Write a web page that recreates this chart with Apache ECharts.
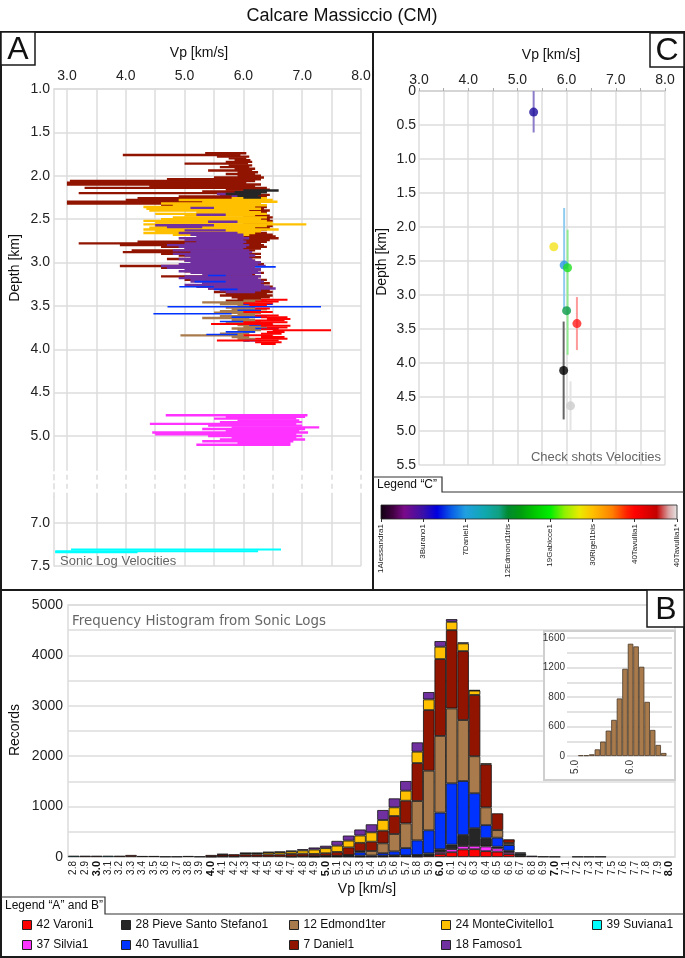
<!DOCTYPE html>
<html><head><meta charset="utf-8">
<script src="https://cdn.jsdelivr.net/npm/echarts@6/dist/echarts.min.js"></script>
<style>html,body{margin:0;padding:0;background:#fff}#c{width:685px;height:958px}</style>
</head><body><div id="c"></div>
<script>
// ---------------- DATA ----------------
// Panel A: sonic logs, rows [depth km, Vp low, Vp high]
const daniel1 = [
[1.74,5.35,6.05],[1.76,3.95,5.95],[1.78,5.55,6.10],[1.80,5.75,6.05],[1.82,5.85,6.12],[1.84,5.70,6.15],
[1.86,5.00,6.08],[1.88,5.75,6.15],[1.90,5.60,6.10],[1.92,5.85,6.20],[1.94,5.40,6.15],[1.96,5.90,6.25],
[1.98,5.70,6.20],[2.00,5.90,6.30],[2.02,5.50,6.35],[2.04,4.70,6.30],[2.06,3.05,6.20],[2.08,3.00,6.05],
[2.10,3.00,6.30],[2.12,4.40,6.20],[2.14,3.30,6.40],[2.16,5.70,6.45],[2.18,5.30,6.40],[2.20,3.20,6.30],
[2.22,5.60,6.45],[2.24,4.90,6.40],[2.26,4.20,6.30],[2.28,4.00,6.20],[2.30,3.00,5.50],[2.32,3.00,6.00],
[2.34,4.60,6.30],[2.36,5.60,6.40],[2.38,5.90,6.35],[2.40,5.80,6.45],[2.42,5.95,6.40],[2.44,5.90,6.40],
[2.46,6.00,6.45],[2.48,6.00,6.50],[2.50,6.10,6.45],[2.52,6.10,6.50],[2.54,6.00,6.45],[2.56,6.00,6.40],
[2.58,6.10,6.50],[2.60,6.00,6.45],[2.62,5.90,6.40],[2.64,5.90,6.30],[2.66,5.80,6.40],[2.68,5.80,6.50],
[2.70,5.70,6.55],[2.72,5.50,6.60],[2.74,5.30,6.45],[2.76,4.20,6.40],[2.78,3.20,6.30],[2.80,3.90,6.35],
[2.82,4.60,6.40],[2.84,5.00,6.30],[2.86,4.10,6.20],[2.88,3.95,6.10],[2.90,4.60,6.30],[2.92,4.90,6.20],
[2.94,5.20,6.30],[2.96,4.70,6.15],[2.98,5.00,6.20],[3.00,5.50,6.30],[3.02,5.20,6.35],[3.04,3.90,6.20],
[3.06,4.60,6.10],[3.08,5.50,6.30],[3.10,5.00,6.20],[3.12,5.30,6.35],[3.14,5.60,6.20],[3.16,4.60,6.30],
[3.18,5.40,6.15],[3.20,5.00,6.40],[3.22,5.60,6.30],[3.24,5.30,6.45],[3.26,5.80,6.30],[3.28,5.50,6.50],
[3.30,5.40,6.40],[3.32,5.60,6.45],[3.34,5.50,6.50],[3.36,5.70,6.40],[3.38,5.60,6.50],[3.40,5.80,6.45],
[3.42,5.90,6.30],[3.44,5.70,6.20]
];
const monteCivitello1 = [
[2.26,5.80,6.40],[2.28,4.90,6.50],[2.30,5.30,6.58],[2.32,4.60,6.30],[2.34,4.80,6.40],[2.36,4.30,6.20],
[2.38,4.35,6.30],[2.40,4.40,6.10],[2.42,5.20,6.30],[2.44,4.50,6.40],[2.46,5.00,6.20],[2.48,4.80,6.40],
[2.50,4.60,6.30],[2.52,4.30,6.40],[2.54,4.50,6.50],[2.56,4.30,7.07],[2.58,4.50,6.40],[2.60,4.40,6.20],
[2.62,4.30,6.60],[2.64,4.50,6.30],[2.66,4.30,6.20],[2.68,4.80,6.10],[2.70,5.40,6.00],[2.72,5.60,5.90]
];
const famoso1 = [
[2.21,5.55,6.00],[2.23,5.80,6.10],[2.37,5.10,5.50],[2.45,5.20,5.70],[2.53,5.40,5.90],[2.57,4.50,5.50],
[2.59,4.70,5.30],[2.63,5.00,5.70],[2.66,4.90,5.90],[2.68,5.10,6.00],[2.70,5.20,6.00],[2.72,4.90,6.10],
[2.74,5.00,6.00],[2.76,5.20,6.05],[2.78,5.00,6.00],[2.80,4.70,6.10],[2.82,4.90,6.05],[2.84,5.00,6.00],
[2.86,4.80,6.10],[2.88,5.10,6.15],[2.90,4.80,6.10],[2.92,5.00,6.20],[2.94,5.10,6.10],[2.96,4.90,6.15],
[2.98,5.00,6.20],[3.00,5.10,6.30],[3.02,4.90,6.25],[3.04,4.60,6.38],[3.06,4.70,6.20],[3.08,5.00,6.30],
[3.10,4.90,6.25],[3.12,5.10,6.30],[3.14,5.30,6.15],[3.16,5.00,6.30],[3.18,4.90,6.25],[3.20,5.10,6.30],
[3.22,5.10,6.35],[3.24,5.30,6.30],[3.26,5.00,6.35],[3.28,5.20,6.45],[3.30,5.40,6.55],[3.32,5.60,6.30],
[3.34,5.70,6.20]
];
const pieveSantoStefano1 = [
[2.17,6.00,6.60],[2.19,5.85,6.40],[2.21,5.70,6.30],[2.23,5.90,6.25],[2.25,6.00,6.30]
];
const edmond1ter = [
[3.44,6.00,6.40],[3.46,5.30,6.20],[3.48,5.60,6.10],[3.50,5.90,6.30],[3.52,5.70,6.20],[3.54,5.80,6.40],
[3.56,5.60,6.10],[3.58,5.50,6.30],[3.60,5.90,6.20],[3.62,5.60,6.30],[3.64,5.30,6.10],[3.66,5.80,6.20],
[3.68,5.90,6.30],[3.70,5.70,6.10],[3.72,5.90,6.30],[3.74,6.00,6.40],[3.76,5.80,6.20],[3.78,5.90,6.30],
[3.80,6.00,6.20],[3.82,5.60,6.10],[3.84,4.93,6.00],[3.86,5.80,6.10],[3.88,5.90,6.20],[3.90,6.00,6.10]
];
const tavullia1 = [
[3.05,6.20,6.55],[3.15,5.40,5.70],[3.22,5.17,5.70],[3.28,4.91,5.50],[3.31,5.50,5.90],[3.48,6.00,6.50],
[3.51,4.71,7.32],[3.55,5.90,6.30],[3.59,4.47,5.80],[3.63,5.80,6.40],[3.68,5.60,6.00],[3.72,6.10,6.50],
[3.76,6.20,6.60],[3.80,5.70,6.20],[3.83,5.37,5.90],[3.86,6.30,6.60],[3.90,6.00,6.30]
];
const varoni1 = [
[3.43,6.30,6.75],[3.45,6.20,6.60],[3.47,6.00,6.50],[3.49,6.10,6.40],[3.53,6.20,6.45],[3.57,6.00,6.50],
[3.61,6.20,6.60],[3.63,6.30,6.75],[3.65,6.40,6.80],[3.67,6.20,6.70],[3.69,6.00,6.75],[3.71,5.45,6.50],
[3.73,6.30,6.80],[3.75,6.40,6.75],[3.77,6.30,6.60],[3.78,6.50,7.49],[3.80,6.40,6.70],[3.82,6.30,6.65],
[3.84,6.00,6.50],[3.86,6.30,6.70],[3.88,6.20,6.75],[3.90,5.55,6.60],[3.92,6.20,6.65],[3.94,6.30,6.55]
];
const silvia1 = [
[4.76,4.68,7.09],[4.78,5.70,7.05],[4.80,5.50,6.90],[4.82,5.90,6.95],[4.84,5.60,7.00],[4.86,4.41,6.90],
[4.88,5.40,7.00],[4.90,5.80,7.29],[4.92,5.30,7.05],[4.94,5.70,6.95],[4.96,4.45,7.10],[4.98,4.50,6.90],
[5.00,5.40,7.00],[5.02,5.80,6.90],[5.04,5.60,7.05],[5.06,5.30,6.85],[5.08,5.90,6.80],[5.10,5.20,6.80]
];
const suviana1 = [[7.31,3.07,6.64],[7.33,2.80,6.25],[7.34,2.80,4.20]];

const vpTicksA = [3.0,3.5,4.0,4.5,5.0,5.5,6.0,6.5,7.0,7.5,8.0];
const vpLabelsA = [3.0,4.0,5.0,6.0,7.0,8.0];
const depthTicksA1 = [1.0,1.5,2.0,2.5,3.0,3.5,4.0,4.5,5.0];
const depthTicksA3 = [7.0,7.5];

// Panel C: check shots
const checkWells = ['1Alessandra1','3Burano1','7Daniel1','12Edmond1tris','19Gabicce1','30Rigel1bis','40Tavullia1','40Tavullia1*'];
const checkVp    = [5.94, 5.33, 5.95, 6.00, 6.02, 5.74, 6.21, 6.08];
const checkDepth = [4.11, 0.31, 2.56, 3.23, 2.60, 2.29, 3.42, 4.63];
const checkTop   = [3.39, 0.00, 1.72, null, 2.04, null, 3.03, 4.27];
const checkBot   = [4.83, 0.61, 3.20, null, 3.88, null, 3.81, 4.99];

// Panel B: histogram (bins 2.8 .. 8.0)
const vpBins = ['2.8','2.9','3.0','3.1','3.2','3.3','3.4','3.5','3.6','3.7','3.8','3.9',
 '4.0','4.1','4.2','4.3','4.4','4.5','4.6','4.7','4.8','4.9','5.0','5.1','5.2',
 '5.3','5.4','5.5','5.6','5.7','5.8','5.9','6.0','6.1','6.2','6.3','6.4','6.5','6.6','6.7',
 '6.8','6.9','7.0','7.1','7.2','7.3','7.4','7.5','7.6','7.7','7.8','7.9','8.0'];
const varoniH   = [0,0,0,0,0,0,0,0,0,0,0,0, 0,0,0,0,0,0,0,0,0,0,0,0,0, 0,0,10,15,15,10,25,60,95,152,155,116,106,58,20, 0,0,0,0,0,0,0, 0,0,0,0,0,0];
const silviaH   = [0,0,0,0,0,0,0,0,0,0,0,0, 0,0,0,0,0,0,0,0,0,0,0,0,0, 7,0,0,0,0,20,14,40,60,66,66,93,66,40,0, 0,0,0,0,0,0,0, 0,0,0,0,0,0];
const pieveH    = [0,0,0,0,0,0,0,0,0,0,0,0, 5,0,10,0,0,0,0,0,0,0,0,0,10, 20,9,16,18,17,10,33,53,90,218,350,165,33,26,50, 0,10,8,0,8,8,8, 0,0,0,0,0,0];
const tavulliaH = [0,0,0,0,0,0,0,0,0,0,0,0, 0,0,0,0,0,0,0,0,0,5,10,10,20, 66,20,50,79,145,290,458,727,1217,1071,694,258,178,112,0, 0,0,0,0,0,0,0, 0,0,0,0,0,0];
const edmondH   = [0,0,0,0,0,0,0,0,0,0,0,0, 0,10,0,0,0,0,0,5,10,10,10,10,10, 23,90,195,344,490,780,1182,1522,1486,1210,734,353,150,41,0, 0,0,0,0,0,0,0, 0,0,0,0,0,0];
const danielH   = [0,25,25,0,25,40,20,20,10,10,20,10, 35,40,45,50,50,50,50,55,55,45,55,80,150, 165,185,251,357,450,754,1203,1525,1553,1368,1216,853,333,73,0, 0,0,0,0,0,0,0, 0,0,0,0,0,0];
const monteH    = [0,0,0,0,0,0,0,0,0,0,0,0, 0,10,0,25,25,40,45,50,65,88,100,125,135, 145,185,212,172,198,225,212,245,165,152,86,20,0,0,0, 0,0,0,0,0,0,0, 0,0,0,0,0,0];
const famosoH   = [0,0,0,0,0,0,0,0,0,0,0,0, 0,0,0,5,5,10,11,15,24,40,48,94,100, 119,159,198,178,192,185,145,112,53,20,10,0,0,0,20, 25,0,0,0,0,0,0, 0,0,0,0,0,0];
const suvianaH  = [25,0,0,25,0,0,0,0,0,0,0,0, 0,0,0,0,0,0,0,0,0,0,0,0,0, 0,0,0,0,0,0,0,0,0,0,0,0,0,0,0, 0,0,0,0,0,0,0, 0,0,0,0,0,0];

// Inset: Edmond1ter histogram
const insetBins   = ['4.9','5.0','5.1','5.2','5.3','5.4','5.5','5.6','5.7','5.8','5.9','6.0','6.1','6.2','6.3','6.4','6.5','6.6','6.7'];
const insetCounts = [0,0,10,10,23,90,195,344,490,780,1182,1522,1486,1210,734,353,150,41,0];
const insetTickValues = [0,400,800,1200,1600];
const insetTickLabels = ['0','600','800','1200','1600'];

// ---------------- STYLE ----------------
const F = "'Liberation Sans', Arial, sans-serif";
const COL = {varoni:'#ff0000', silvia:'#ff33ff', pieve:'#262626', tavullia:'#0033ff', edmond:'#a97b4c',
  daniel:'#901400', monte:'#ffc000', famoso:'#7030a0', suviana:'#00ffff'};
const NAMES = {varoni:'42 Varoni1', silvia:'37 Silvia1', pieve:'28 Pieve Santo Stefano1', tavullia:'40 Tavullia1',
  edmond:'12 Edmond1ter', daniel:'7 Daniel1', monte:'24 MonteCivitello1', famoso:'18 Famoso1', suviana:'39 Suviana1'};
const checkColors = ['#000000','#1c0c9c','#2a96e0','#0a9a4a','#22e022','#f2e21a','#ff1a1a','#cccccc'];
const checkBarColors = ['#666666','#8c7cc8','#90ccf0',null,'#90ea90',null,'#ff9a9a','#e4e4e4'];
const cbStops = [[0,'#100010'],[0.04,'#400040'],[0.08,'#7a0a8a'],[0.143,'#3a10a8'],[0.19,'#0000e0'],[0.24,'#0a60e8'],
 [0.286,'#20a0e0'],[0.35,'#10a8b0'],[0.40,'#10a080'],[0.429,'#008a30'],[0.47,'#009a10'],[0.52,'#00c800'],
 [0.571,'#00ee00'],[0.62,'#90f000'],[0.67,'#eaea00'],[0.714,'#ffc000'],[0.78,'#ff8000'],[0.83,'#ff2000'],
 [0.857,'#ff0000'],[0.93,'#c40000'],[0.97,'#d8a0a0'],[1,'#e8e8e8']];
const GL = {color:'#dcdcdc', width:1.5};

function segSeries(key, rows, gi, lw) {
  const color = COL[key];
  return {
    type:'custom', name:NAMES[key], xAxisIndex:gi, yAxisIndex:gi, data:rows,
    encode:{x:[1,2], y:0}, itemStyle:{color}, clip:true, silent:true, z:3,
    renderItem(params, api){
      const d = api.value(0);
      const a = api.coord([api.value(1), d]);
      const b = api.coord([api.value(2), d]);
      return {type:'line', shape:{x1:a[0], y1:a[1], x2:b[0], y2:b[1]}, style:{stroke:color, lineWidth:lw || 2.4}};
    }
  };
}
function histSeries(key, arr) {
  return {type:'bar', name:NAMES[key], stack:'h', xAxisIndex:5, yAxisIndex:5, barWidth:'100%', barCategoryGap:'0%',
    data: arr.map(v => v === 0 ? '-' : v),
    itemStyle:{color:COL[key], borderColor:'#111', borderWidth:0.8}, silent:true};
}
function txt(text, x, y, size, opts) {
  opts = opts || {};
  return {type:'text', x, y, rotation: opts.rot || 0, z: 100,
    style:{text, fill: opts.fill || '#111', font: (opts.weight||'normal') + ' ' + size + 'px ' + (opts.family || F),
      textAlign: opts.align || 'center', textVerticalAlign:'middle', align: opts.align || 'center', verticalAlign:'middle'}};
}
const frame = {stroke:'#1a1a1a', lineWidth:2, fill:null};

const legendBase = {orient:'vertical', icon:'rect', itemWidth:9, itemHeight:9, itemGap:8, padding:0, selectedMode:false,
  top:919, textStyle:{fontSize:12, color:'#111', fontFamily:F}, itemStyle:{borderColor:'#222', borderWidth:1}};

const option = {
  animation:false,
  textStyle:{fontFamily:F},
  grid:[
    {left:54, top:89, width:307, height:381.7, outerBoundsMode:'none'},
    {left:54, top:470.7, width:307, height:26.3, outerBoundsMode:'none'},
    {left:54, top:497, width:307, height:69, outerBoundsMode:'none'},
    {left:419, top:91, width:246, height:374, outerBoundsMode:'none'},
    {left:381, top:505, width:296, height:14, outerBoundsMode:'none'},
    {left:68, top:605, width:607, height:252, show:true, borderColor:'#dcdcdc', borderWidth:1.5, outerBoundsMode:'none'},
    {left:567, top:638, width:105, height:118, outerBoundsMode:'none'}
  ],
  xAxis:[
    {gridIndex:0, type:'value', min:2.78, max:8, position:'top',
      axisLine:{show:true, lineStyle:GL}, axisTick:{show:false, customValues:vpTicksA},
      axisLabel:{customValues:vpLabelsA, formatter:v=>v.toFixed(1), fontSize:14, color:'#222', margin:6},
      splitLine:{show:true, lineStyle:GL}},
    {gridIndex:1, type:'value', min:2.78, max:8, axisLine:{show:false}, axisTick:{show:false, customValues:vpTicksA},
      axisLabel:{show:false}, splitLine:{show:true, lineStyle:{color:'#dcdcdc', width:1.5, type:[5,4], dashOffset:-4}}},
    {gridIndex:2, type:'value', min:2.78, max:8, position:'bottom', axisLine:{show:false},
      axisTick:{show:false, customValues:vpTicksA}, axisLabel:{show:false}, splitLine:{show:true, lineStyle:GL}},
    {gridIndex:3, type:'value', min:3, max:8, interval:0.5, position:'top',
      axisLine:{show:true, lineStyle:{color:'#cfcfcf', width:1.5}}, axisTick:{show:true, length:3, lineStyle:{color:'#aaa'}},
      axisLabel:{formatter:v=>Number.isInteger(v)?v.toFixed(1):'', fontSize:14, color:'#222', margin:4},
      splitLine:{show:true, lineStyle:GL}},
    {gridIndex:4, type:'value', min:0, max:7, interval:1, position:'bottom',
      axisLine:{show:false}, axisTick:{show:true, length:3, lineStyle:{color:'#333'}},
      axisLabel:{formatter:v=>checkWells[v], rotate:90, fontSize:8, color:'#222', margin:5}, splitLine:{show:false}},
    {gridIndex:5, type:'category', data:vpBins, axisLine:{show:false}, axisTick:{show:false},
      axisLabel:{interval:0, rotate:90, fontSize:10, color:'#222', margin:4,
        formatter:v=>/\.0$/.test(v)?'{b|'+v+'}':v, rich:{b:{fontWeight:'bold', fontSize:11, color:'#111'}}},
      splitLine:{show:false}},
    {gridIndex:6, type:'category', data:insetBins, z:2, axisLine:{show:false}, axisTick:{show:false},
      axisLabel:{interval:(i,v)=>v==='5.0'||v==='6.0', rotate:90, fontSize:10, color:'#333', margin:4},
      splitLine:{show:false}}
  ],
  yAxis:[
    {gridIndex:0, type:'value', inverse:true, min:1.0, max:5.4,
      axisLine:{show:true, lineStyle:GL}, axisTick:{show:false, customValues:depthTicksA1},
      axisLabel:{customValues:depthTicksA1, formatter:v=>v.toFixed(1), fontSize:14, color:'#222', margin:4},
      splitLine:{show:true, lineStyle:GL}},
    {gridIndex:1, type:'value', inverse:true, min:5.4, max:6.7,
      axisLine:{show:true, lineStyle:{color:'#dcdcdc', width:1.5, type:[5,4], dashOffset:-4}},
      axisTick:{show:false}, axisLabel:{show:false}, splitLine:{show:false}},
    {gridIndex:2, type:'value', inverse:true, min:6.7, max:7.5,
      axisLine:{show:true, lineStyle:GL}, axisTick:{show:false, customValues:depthTicksA3},
      axisLabel:{customValues:depthTicksA3, formatter:v=>v.toFixed(1), fontSize:14, color:'#222', margin:4},
      splitLine:{show:true, lineStyle:GL}},
    {gridIndex:3, type:'value', inverse:true, min:0, max:5.5, interval:0.5,
      axisLine:{show:false}, axisTick:{show:false},
      axisLabel:{formatter:v=>v===0?'0':v.toFixed(1), fontSize:14, color:'#222', margin:3},
      splitLine:{show:true, lineStyle:GL}},
    {gridIndex:4, type:'value', min:0, max:1, show:false},
    {gridIndex:5, type:'value', min:0, max:5000, interval:500,
      axisLine:{show:false}, axisTick:{show:false},
      axisLabel:{formatter:v=>v%1000===0?String(v):'', fontSize:14, color:'#222', margin:5},
      splitLine:{show:true, lineStyle:GL}},
    {gridIndex:6, type:'value', min:0, max:1600, interval:200, z:2,
      axisLine:{show:false}, axisTick:{show:false},
      axisLabel:{formatter:v=>{const k=insetTickValues.indexOf(v); return k>=0?insetTickLabels[k]:'';}, fontSize:10, color:'#333', margin:2},
      splitLine:{show:true, lineStyle:{color:'#d8d8d8', width:1.5}}}
  ],
  legend:[
    Object.assign({}, legendBase, {left:22, data:[NAMES.varoni, NAMES.silvia]}),
    Object.assign({}, legendBase, {left:121, data:[NAMES.pieve, NAMES.tavullia]}),
    Object.assign({}, legendBase, {left:289, data:[NAMES.edmond, NAMES.daniel]}),
    Object.assign({}, legendBase, {left:441, data:[NAMES.monte, NAMES.famoso]}),
    Object.assign({}, legendBase, {left:592, data:[NAMES.suviana]})
  ],
  series:[
    segSeries('daniel', daniel1, 0),
    segSeries('monte', monteCivitello1, 0),
    segSeries('famoso', famoso1, 0),
    segSeries('pieve', pieveSantoStefano1, 0),
    segSeries('edmond', edmond1ter, 0),
    segSeries('tavullia', tavullia1, 0, 1.6),
    segSeries('varoni', varoni1, 0, 2),
    segSeries('silvia', silvia1, 0),
    segSeries('suviana', suviana1, 2, 2),
    // Panel C error bars
    {type:'custom', xAxisIndex:3, yAxisIndex:3, silent:true, z:3,
      data: checkVp.map((v,i)=>[v, checkTop[i], checkBot[i], i]).filter(r=>r[1]!==null),
      encode:{x:0, y:[1,2]},
      renderItem(params, api){
        const a = api.coord([api.value(0), api.value(1)]);
        const b = api.coord([api.value(0), api.value(2)]);
        return {type:'line', shape:{x1:a[0], y1:a[1], x2:b[0], y2:b[1]},
          style:{stroke:checkBarColors[api.value(3)], lineWidth:2}};
      }},
    {type:'scatter', xAxisIndex:3, yAxisIndex:3, symbolSize:9, silent:true, z:4,
      data: checkVp.map((v,i)=>({value:[v, checkDepth[i]], itemStyle:{color:checkColors[i]}}))},
    // Colour bar legend C
    {type:'custom', xAxisIndex:4, yAxisIndex:4, silent:true, data:[[0,0,checkWells.length-1,1]],
      encode:{x:[0,2], y:[1,3]},
      renderItem(params, api){
        const p0 = api.coord([api.value(0), api.value(3)]);
        const p1 = api.coord([api.value(2), api.value(1)]);
        return {type:'rect', shape:{x:p0[0], y:p0[1], width:p1[0]-p0[0], height:p1[1]-p0[1]},
          style:{fill:new echarts.graphic.LinearGradient(0,0,1,0, cbStops.map(s=>({offset:s[0], color:s[1]}))),
            stroke:'#222', lineWidth:0.8}};
      }},
    // Histogram
    histSeries('varoni', varoniH),
    histSeries('silvia', silviaH),
    histSeries('pieve', pieveH),
    histSeries('tavullia', tavulliaH),
    histSeries('edmond', edmondH),
    histSeries('daniel', danielH),
    histSeries('monte', monteH),
    histSeries('famoso', famosoH),
    histSeries('suviana', suvianaH),
    // Inset
    {type:'bar', name:'inset', xAxisIndex:6, yAxisIndex:6, barWidth:'100%', barCategoryGap:'0%', z:4, silent:true,
      data: insetCounts.map(v => v === 0 ? '-' : v),
      itemStyle:{color:'#a97b4c', borderColor:'#4a3a2a', borderWidth:0.8}}
  ],
  graphic:{elements:[
    txt('Calcare Massiccio (CM)', 342, 16, 18),
    {type:'rect', z:1, shape:{x:544, y:631, width:131, height:149}, style:{stroke:'#cfcfcf', lineWidth:2, fill:'#fff'}},
    {type:'rect', z:100, shape:{x:1, y:32, width:372, height:558}, style:frame},
    {type:'rect', z:100, shape:{x:373, y:32, width:311, height:558}, style:frame},
    {type:'rect', z:100, shape:{x:1, y:590, width:683, height:367}, style:frame},
    {type:'rect', z:100, shape:{x:1, y:32, width:34, height:33}, style:{stroke:'#1a1a1a', lineWidth:1.5, fill:'#fff'}},
    {type:'rect', z:100, shape:{x:650, y:33, width:34, height:34}, style:{stroke:'#1a1a1a', lineWidth:1.5, fill:'#fff'}},
    {type:'rect', z:100, shape:{x:647, y:590, width:37, height:37}, style:{stroke:'#1a1a1a', lineWidth:1.5, fill:'#fff'}},
    txt('A', 18, 50, 32),
    txt('C', 667, 51, 32),
    txt('B', 666, 610, 32),
    {type:'polyline', z:100, shape:{points:[[373,477],[442,477],[442,492],[684,492]]}, style:{stroke:'#333', lineWidth:1.2, fill:null}},
    txt('Legend “C”', 377, 485, 12, {align:'left'}),
    {type:'polyline', z:100, shape:{points:[[1,897],[105,897],[105,914],[684,914]]}, style:{stroke:'#333', lineWidth:1.2, fill:null}},
    txt('Legend “A” and B”', 5, 906, 12, {align:'left'}),
    txt('Sonic Log Velocities', 60, 561, 13, {align:'left', fill:'#666'}),
    txt('Check shots Velocities', 661, 457, 13, {align:'right', fill:'#666'}),
    txt('Frequency Histogram from Sonic Logs', 72, 622, 13.4, {align:'left', fill:'#666', family:"'DejaVu Sans', Verdana, sans-serif"}),
    txt('Vp [km/s]', 199, 53, 14),
    txt('Vp [km/s]', 551, 55, 14),
    txt('Vp [km/s]', 367, 889, 14),
    txt('Depth [km]', 15, 268, 14, {rot:Math.PI/2}),
    txt('Depth [km]', 382, 262, 14, {rot:Math.PI/2}),
    txt('Records', 15, 730, 14, {rot:Math.PI/2})
  ]}
};

const chart = echarts.init(document.getElementById('c'), null, {renderer:'canvas', width:685, height:958});
chart.setOption(option);
</script></body></html>
